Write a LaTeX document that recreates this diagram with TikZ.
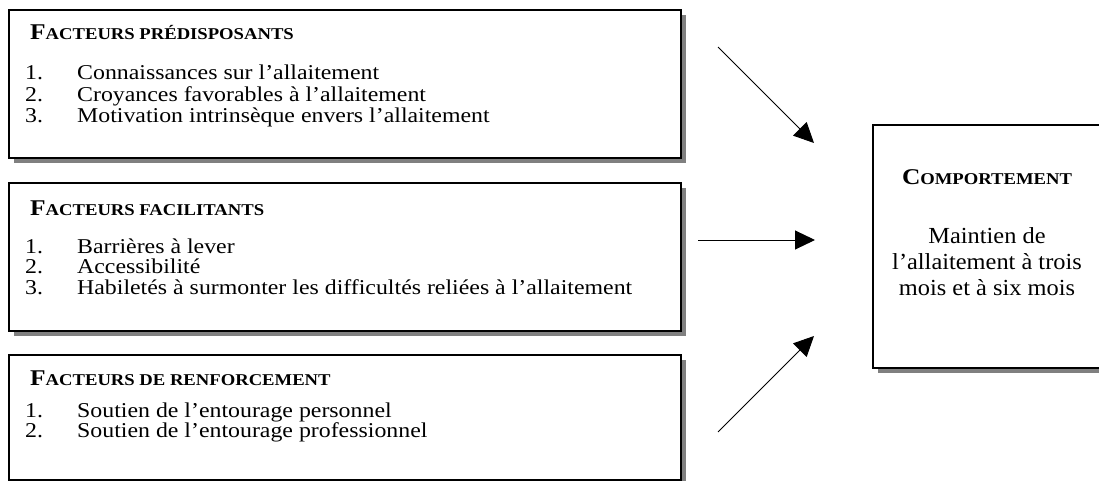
\documentclass[tikz,border=0pt]{standalone}
\usepackage{fontspec}
\setmainfont[FakeStretch=1.13]{Liberation Serif}
\newfontfamily\rfont[FakeStretch=1.06]{Liberation Serif}
\usetikzlibrary{arrows.meta,shadows}
\newcommand{\fakesc}[2]{\textbf{\fontsize{22.5}{26}\selectfont #1\fontsize{16.5}{20}\selectfont #2}}
\newcommand{\itm}[2]{\makebox[52pt][l]{#1}#2}
\tikzset{
  box/.style={draw, line width=2pt, fill=white, rectangle, inner sep=0pt, anchor=north west,
    drop shadow={shadow xshift=5pt, shadow yshift=-5pt, fill=black!50, opacity=1}},
  ttl/.style={inner sep=0pt, anchor=base west},
  item/.style={inner sep=0pt, anchor=base west, font=\fontsize{21.1}{25}\selectfont},
  ctext/.style={inner sep=0pt, anchor=base, font=\rfont\fontsize{23}{26}\selectfont},
  arr/.style={line width=1pt, -{Triangle[length=20pt,width=19pt]}}
}
\begin{document}
\begin{tikzpicture}[x=1pt,y=-1pt]
\clip (0,0) rectangle (1099,481);
\fill[white] (0,0) rectangle (1099,481);
% boxes
\node[box, minimum width=672pt, minimum height=148pt] (b1) at (8,9) {};
\node[box, minimum width=672pt, minimum height=148pt] (b2) at (8,182) {};
\node[box, minimum width=672pt, minimum height=125pt] (b3) at (8,354) {};
\node[box, minimum width=240pt, minimum height=243pt] (b4) at (872,124) {};
% box 1
\node[ttl] (t1) at (30,40) {\fakesc{F}{ACTEURS PRÉDISPOSANTS}};
\node[item] (i11) at (25,80) {\itm{1.}{Connaissances sur l’allaitement}};
\node[item] (i12) at (25,102) {\itm{2.}{Croyances favorables à l’allaitement}};
\node[item] (i13) at (25,123) {\itm{3.}{Motivation intrinsèque envers l’allaitement}};
% box 2
\node[ttl] (t2) at (30,215) {\fakesc{F}{ACTEURS FACILITANTS}};
\node[item] (i21) at (25,253) {\itm{1.}{Barrières à lever}};
\node[item] (i22) at (25,273) {\itm{2.}{Accessibilité}};
\node[item] (i23) at (25,294) {\itm{3.}{Habiletés à surmonter les difficultés reliées à l’allaitement}};
% box 3
\node[ttl] (t3) at (30,385) {\fakesc{F}{ACTEURS DE RENFORCEMENT}};
\node[item] (i31) at (25,417) {\itm{1.}{Soutien de l’entourage personnel}};
\node[item] (i32) at (25,437) {\itm{2.}{Soutien de l’entourage professionnel}};
% box 4
\node[inner sep=0pt, anchor=base] (t4) at (987,185) {\fakesc{C}{OMPORTEMENT}};
\node[ctext] (c1) at (987,243) {Maintien de};
\node[ctext] (c2) at (987,269) {l’allaitement à trois};
\node[ctext] (c3) at (987,295) {mois et à six mois};
% arrows
\coordinate (a1s) at (718,47);
\coordinate (a1e) at (814,143);
\coordinate (a2s) at (698,240);
\coordinate (a2e) at (815,240);
\coordinate (a3s) at (718,432);
\coordinate (a3e) at (814,336);
\draw[arr] (a1s) -- (a1e);
\draw[arr] (a2s) -- (a2e);
\draw[arr] (a3s) -- (a3e);
\end{tikzpicture}
\end{document}
